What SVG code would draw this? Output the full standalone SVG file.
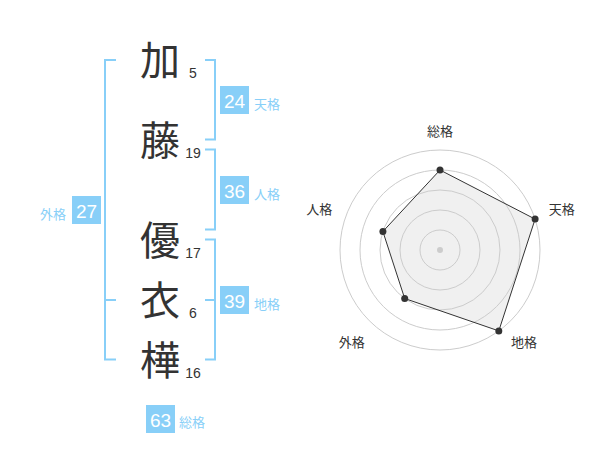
<svg xmlns="http://www.w3.org/2000/svg" width="600" height="470" viewBox="0 0 600 470">
<style>
.kanji{font-family:"Noto Sans CJK JP","Noto Sans CJK SC",sans-serif;font-size:40px;fill:#333;text-anchor:middle}
.num{font-family:"Liberation Sans",Arial,sans-serif;font-size:14px;fill:#333;text-anchor:middle}
.box{fill:#88cff8}
.boxnum{font-family:"Liberation Sans",Arial,sans-serif;font-size:19px;fill:#fff;text-anchor:middle}
.lbl{font-family:"Noto Sans CJK JP","Noto Sans CJK SC",sans-serif;font-size:13px;fill:#88cff8}
.br{fill:none;stroke:#88cff8;stroke-width:2}
.ring{fill:none;stroke:#cccccc;stroke-width:1}
.axis{font-family:"Noto Sans CJK JP","Noto Sans CJK SC",sans-serif;font-size:13px;fill:#333;text-anchor:middle}
.pt{fill:#333}
</style>
<rect width="600" height="470" fill="#fff"/>

<g id="connectors">
  <path class="br" d="M116,60 H105 V359.5 H116 M105,300 H116"/>
  <path class="br" d="M205,60 H215 V139.5 H205"/>
  <path class="br" d="M205,149.5 H215 V229.5 H205"/>
  <path class="br" d="M205,239.5 H215 V359.5 H205 M205,300 H215"/>
</g>

<g id="char-1"><text class="kanji" x="160" y="75">加</text><text class="num" x="193" y="77.5">5</text></g>
<g id="char-2"><text class="kanji" x="160" y="155">藤</text><text class="num" x="193" y="157.5">19</text></g>
<g id="char-3"><text class="kanji" x="160" y="255">優</text><text class="num" x="193" y="257.5">17</text></g>
<g id="char-4"><text class="kanji" x="160" y="315">衣</text><text class="num" x="193" y="317.5">6</text></g>
<g id="char-5"><text class="kanji" x="160" y="375">樺</text><text class="num" x="193" y="377.5">16</text></g>

<g id="tenkaku"><rect class="box" x="220" y="86" width="29" height="28"/><text class="boxnum" x="234.5" y="108">24</text><text class="lbl" x="254" y="108.5">天格</text></g>
<g id="jinkaku"><rect class="box" x="220" y="176" width="29" height="28"/><text class="boxnum" x="234.5" y="198">36</text><text class="lbl" x="254" y="198.5">人格</text></g>
<g id="chikaku"><rect class="box" x="220" y="286" width="29" height="28"/><text class="boxnum" x="234.5" y="308">39</text><text class="lbl" x="254" y="309">地格</text></g>
<g id="gaikaku"><rect class="box" x="72" y="196" width="29" height="28"/><text class="boxnum" x="86.5" y="218">27</text><text class="lbl" x="40" y="218.5">外格</text></g>
<g id="soukaku"><rect class="box" x="146" y="405" width="29" height="28"/><text class="boxnum" x="160.5" y="427">63</text><text class="lbl" x="179" y="427">総格</text></g>

<g id="radar">
  <polygon points="440,170 535.1,219.1 498.8,330.9 404.7,298.5 382.9,231.5" fill="#f0f0f0" stroke="none"/>
  <circle class="ring" cx="440" cy="250" r="20"/>
  <circle class="ring" cx="440" cy="250" r="40"/>
  <circle class="ring" cx="440" cy="250" r="60"/>
  <circle class="ring" cx="440" cy="250" r="80"/>
  <circle class="ring" cx="440" cy="250" r="100"/>
  <circle cx="440" cy="250" r="3" fill="#cccccc"/>
  <polygon points="440,170 535.1,219.1 498.8,330.9 404.7,298.5 382.9,231.5" fill="none" stroke="#333" stroke-width="1"/>
  <circle class="pt" cx="440" cy="170" r="3.5"/>
  <circle class="pt" cx="535.1" cy="219.1" r="3.5"/>
  <circle class="pt" cx="498.8" cy="330.9" r="3.5"/>
  <circle class="pt" cx="404.7" cy="298.5" r="3.5"/>
  <circle class="pt" cx="382.9" cy="231.5" r="3.5"/>
  <text class="axis" x="440" y="135.5">総格</text>
  <text class="axis" x="561.7" y="213.5">天格</text>
  <text class="axis" x="524" y="346.5">地格</text>
  <text class="axis" x="351.7" y="346.5">外格</text>
  <text class="axis" x="319.3" y="213.5">人格</text>
</g>
</svg>
